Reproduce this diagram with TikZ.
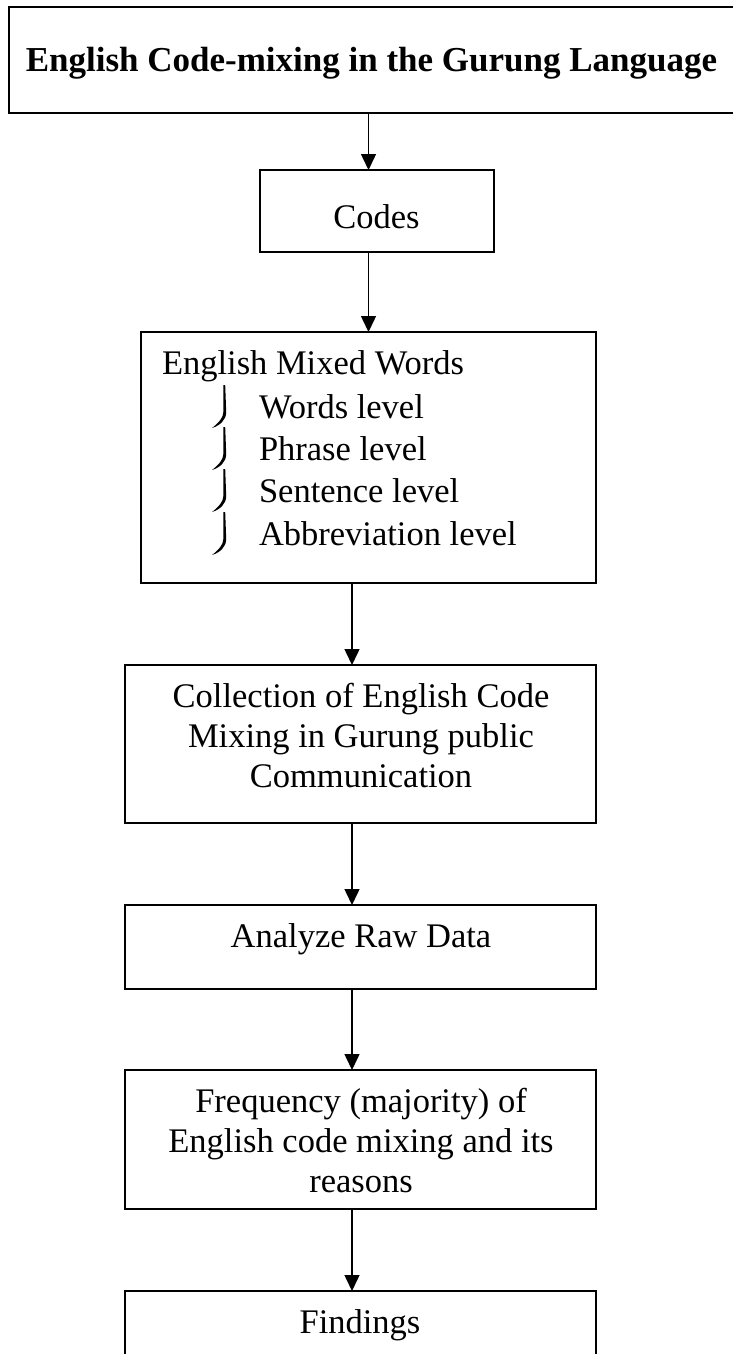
\documentclass[tikz,border=0pt]{standalone}
\usepackage{fontspec}
\setmainfont{Liberation Serif}
\usetikzlibrary{arrows.meta}
\tikzset{
  box/.style={draw, line width=1.6pt, inner sep=0pt, outer sep=0pt},
  txt/.style={anchor=base, inner sep=0pt, outer sep=0pt, font=\fontsize{34.5}{42}\selectfont},
  ttl/.style={anchor=base, inner sep=0pt, outer sep=0pt, font=\fontsize{35}{42}\selectfont\bfseries},
  arr/.style={-{Triangle[width=15pt,length=16pt]}, line width=1.5pt},
  bul/.style={fill=black, draw=none}
}
\newcommand{\mybullet}[1]{%
  \fill[bul] (223.4,#1-33) -- (225.2,#1-33) -- (226.2,#1-6)
    .. controls (226.2,#1+2) and (220,#1+7.5) .. (212,#1+10)
    .. controls (218.5,#1+5) and (223.2,#1) .. (223.4,#1-6) -- cycle;}
\begin{document}
\begin{tikzpicture}[x=1pt,y=-1pt]
\useasboundingbox (0,0) rectangle (733,1354);
% boxes
\node[box, minimum width=760pt, minimum height=106pt] (top) at (389,60) {};
\node[box, minimum width=234pt, minimum height=82pt] (codes) at (377,211) {};
\node[box, minimum width=455pt, minimum height=251pt] (mixed) at (368.5,457.5) {};
\node[box, minimum width=471pt, minimum height=158pt] (coll) at (360.5,744) {};
\node[box, minimum width=471pt, minimum height=84pt] (anal) at (360.5,947) {};
\node[box, minimum width=471pt, minimum height=139pt] (freq) at (360.5,1139.5) {};
\node[box, minimum width=471pt, minimum height=110pt] (find) at (360.5,1346) {};
% texts
\node[ttl] (topT) at (371.5,71) {English Code-mixing in the Gurung Language};
\node[txt] (codesT) at (376.5,228) {Codes};
\node[txt, anchor=base west] (mixT) at (162,374) {English Mixed Words};
\node[txt, anchor=base west] (mixA) at (259,418) {Words level};
\node[txt, anchor=base west] (mixB) at (259,460) {Phrase level};
\node[txt, anchor=base west] (mixC) at (259,502) {Sentence level};
\node[txt, anchor=base west] (mixD) at (259,545) {Abbreviation level};
\mybullet{418}
\mybullet{460}
\mybullet{502}
\mybullet{545}
\node[txt] (collA) at (361,707) {Collection of English Code};
\node[txt] (collB) at (361,747) {Mixing in Gurung public};
\node[txt] (collC) at (361,787) {Communication};
\node[txt] (analT) at (361,947) {Analyze Raw Data};
\node[txt] (freqA) at (361,1112) {Frequency (majority) of};
\node[txt] (freqB) at (361,1152) {English code mixing and its};
\node[txt] (freqC) at (361,1192) {reasons};
\node[txt] (findT) at (360,1333) {Findings};
% connectors
\draw[arr] (mixed.north |- top.south) -- (mixed.north |- codes.north);
\draw[arr] (mixed.north |- codes.south) -- (mixed.north);
\draw[arr] ([xshift=-8.5pt]coll.north |- mixed.south) -- ([xshift=-8.5pt]coll.north);
\draw[arr] ([xshift=-8.5pt]anal.north |- coll.south) -- ([xshift=-8.5pt]anal.north);
\draw[arr] ([xshift=-8.5pt]freq.north |- anal.south) -- ([xshift=-8.5pt]freq.north);
\draw[arr] ([xshift=-8.5pt]find.north |- freq.south) -- ([xshift=-8.5pt]find.north);
\end{tikzpicture}
\end{document}
